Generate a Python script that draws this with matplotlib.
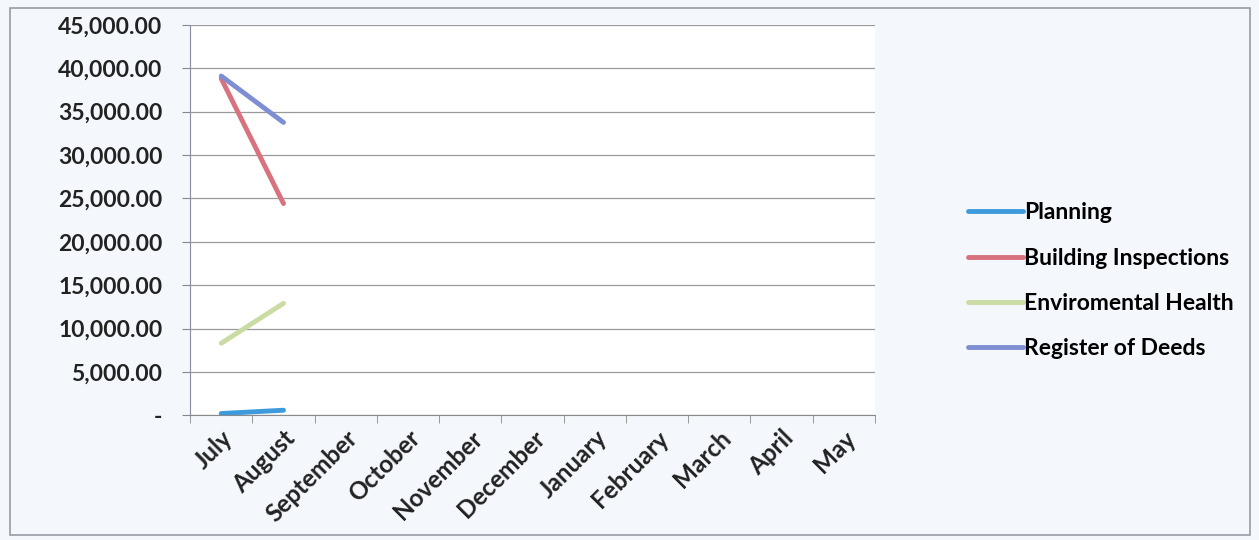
import matplotlib.pyplot as plt
from matplotlib.patches import Rectangle
from matplotlib.ticker import FuncFormatter

# Months on the x axis
months = ['July', 'August', 'September', 'October', 'November', 'December',
          'January', 'February', 'March', 'April', 'May']

# Values (only July and August have data)
planning = [200, 580]
building_inspections = [38800, 24400]
enviromental_health = [8300, 12900]
register_of_deeds = [39100, 33750]

series = [
    ('Planning', planning, '#3d9bdc'),
    ('Building Inspections', building_inspections, '#d8727f'),
    ('Enviromental Health', enviromental_health, '#cadba3'),
    ('Register of Deeds', register_of_deeds, '#7d8fd2'),
]

plt.rcParams['font.family'] = ['Lato', 'DejaVu Sans']

fig = plt.figure(figsize=(12.59, 5.40), dpi=100, facecolor='#f4f8fc')
ax = fig.add_axes([0.151, 0.231, 0.544, 0.723])
ax.set_facecolor('white')

x = list(range(len(months)))
for name, vals, color in series:
    ax.plot(x[:len(vals)], vals, color=color, lw=3.5, label=name,
            solid_capstyle='round')

ax.set_xlim(-0.5, len(months) - 0.5)
ax.set_ylim(0, 45000)
ax.set_yticks(range(0, 45001, 5000))
ax.yaxis.set_major_formatter(FuncFormatter(lambda v, p: '-' if v == 0 else f'{v:,.2f}'))
ax.grid(axis='y', color='#9a9a9a', lw=0.9)
ax.set_axisbelow(True)

ax.set_xticks(x)
ax.set_xticklabels(months, rotation=45, ha='right', rotation_mode='anchor',
                   fontsize=17.5, fontweight='bold', color='#222222')
ax.set_xticks([i - 0.5 for i in range(len(months) + 1)], minor=True)
ax.tick_params(axis='x', which='major', length=0, pad=8)
ax.tick_params(axis='x', which='minor', length=6, color='#888888')
ax.tick_params(axis='y', length=6, color='#888888', labelsize=16.5, pad=14)
for lbl in ax.get_yticklabels():
    lbl.set_fontweight('bold')
    lbl.set_color('#222222')

for side in ['top', 'right']:
    ax.spines[side].set_visible(False)
ax.spines['left'].set_color('#8a8aa0')
ax.spines['bottom'].set_color('#8a8a8a')

ax.legend(loc='center left', bbox_to_anchor=(1.105, 0.345), frameon=False,
          prop={'weight': 'bold', 'size': 16.5},
          handlelength=2.4, handletextpad=0.05, labelspacing=1.05)

# outer chart border
fig.patches.append(Rectangle((0.008, 0.01), 0.985, 0.975, transform=fig.transFigure,
                             fill=False, edgecolor='#9a9aa8', lw=1.2))

fig.savefig('out.png', dpi=100, facecolor=fig.get_facecolor())
